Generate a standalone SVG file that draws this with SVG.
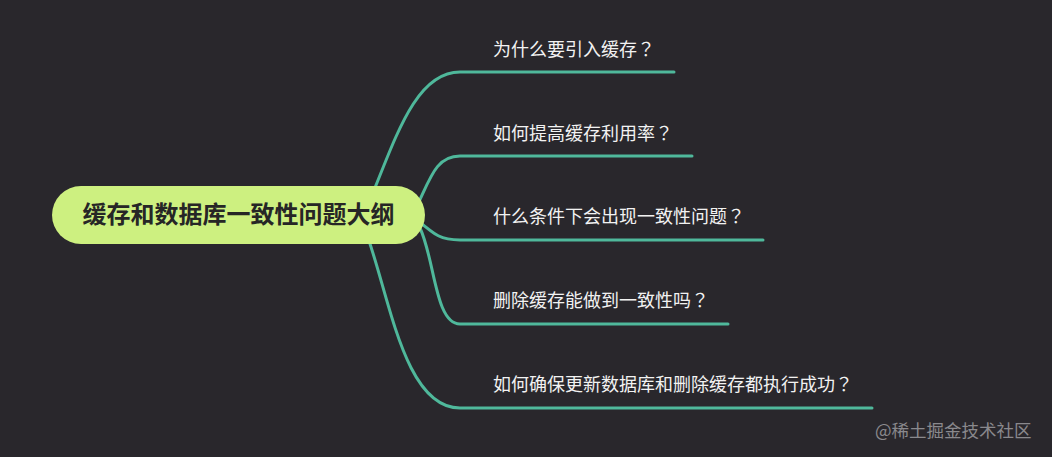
<svg xmlns="http://www.w3.org/2000/svg" width="1052" height="457" viewBox="0 0 1052 457">
<style>
.conn{fill:none;stroke:#4fb89b;stroke-width:3;stroke-linecap:round}
.lbl{font-family:"Noto Sans CJK SC","Noto Sans",sans-serif;font-size:18px;fill:#f2f2f2}
.q{font-family:"Noto Sans CJK TC","Noto Sans CJK SC",sans-serif}
.root{font-family:"Noto Sans CJK SC","Noto Sans",sans-serif;font-size:24px;font-weight:bold;fill:#262626}
.wm{font-family:"Noto Sans CJK SC","Noto Sans",sans-serif;font-size:17.5px;fill:#8a898d}
</style>
<rect width="1052" height="457" fill="#29272c"/>
<g id="connectors">
<path class="conn" d="M370 200 C395 140 415 72 460 72 L674 72"/>
<path class="conn" d="M415 210 C430 180 435 156 460 156 L692 156"/>
<path class="conn" d="M415 218 C435 235 440 240 460 240 L763 240"/>
<path class="conn" d="M420 228 C435 260 435 324 460 324 L728 324"/>
<path class="conn" d="M368 238 C390 300 405 408 460 408 L872 408"/>
</g>
<g id="root">
<rect x="52" y="186" width="373" height="58" rx="29" fill="#cdf080"/>
<text class="root" x="238.5" y="223" text-anchor="middle">缓存和数据库一致性问题大纲</text>
</g>
<g id="n1"><text class="lbl" x="493" y="56">为什么要引入缓存<tspan class="q">？</tspan></text></g>
<g id="n2"><text class="lbl" x="493" y="140">如何提高缓存利用率<tspan class="q">？</tspan></text></g>
<g id="n3"><text class="lbl" x="493" y="223">什么条件下会出现一致性问题<tspan class="q">？</tspan></text></g>
<g id="n4"><text class="lbl" x="493" y="307">删除缓存能做到一致性吗<tspan class="q">？</tspan></text></g>
<g id="n5"><text class="lbl" x="493" y="391">如何确保更新数据库和删除缓存都执行成功<tspan class="q">？</tspan></text></g>
<text class="wm" x="875" y="437">@稀土掘金技术社区</text>
</svg>
